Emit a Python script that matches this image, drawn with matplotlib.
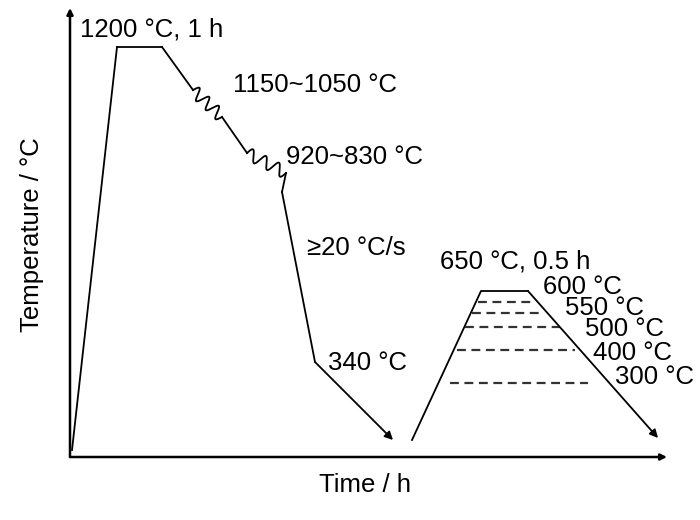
import numpy as np
import matplotlib
matplotlib.use("Agg")
import matplotlib.pyplot as plt

plt.rcParams['font.family'] = ['Liberation Sans', 'DejaVu Sans']

# schematic units (time ~ arbitrary, temperature ~ arbitrary)
hot_t = [2, 47, 92, 123, 152, 177, 216, 212, 245, 323]
hot_T = [7, 410, 410, 367, 340, 304, 284, 265, 95, 17]
# segments drawn as rolling "springs" (index pairs in hot_t / hot_T)
rolling_segments = [(3, 4), (5, 6)]

temper_t = [342, 411, 458, 588]
temper_T = [17, 166, 166, 19]

dash_levels = [155, 144, 130, 107, 74]
dash_start = [408, 402, 395, 387, 380]
dash_end = [463, 470, 490, 505, 518]

labels = ["1200 \u00b0C, 1 h", "1150~1050 \u00b0C", "920~830 \u00b0C", "\u226520 \u00b0C/s",
          "340 \u00b0C", "650 \u00b0C, 0.5 h", "600 \u00b0C", "550 \u00b0C", "500 \u00b0C",
          "400 \u00b0C", "300 \u00b0C"]
label_t = [10, 163, 216, 237, 258, 370, 473, 495, 515, 523, 545]
label_T = [428, 372, 300, 209, 94, 195, 170, 149, 128, 104, 80]


def spring(x0, y0, x1, y1, n=3, amp=6):
    # wiggly line between two points
    s = np.linspace(0, 1, 200)
    dx, dy = x1 - x0, y1 - y0
    L = np.hypot(dx, dy)
    nx, ny = -dy / L, dx / L
    w = amp * np.sin(2 * np.pi * n * s)
    return x0 + dx * s + nx * w, y0 + dy * s + ny * w


fig = plt.figure(figsize=(7, 5.2), dpi=100)
ax = fig.add_axes([70 / 700, 63 / 520, 597 / 700, 449 / 520])
ax.set_xlim(0, 597)
ax.set_ylim(0, 449)
ax.axis('off')

lw = 1.3
fs = 18.5
# hot rolling + quench curve
for i in range(len(hot_t) - 2):
    if (i, i + 1) in rolling_segments:
        xs, ys = spring(hot_t[i], hot_T[i], hot_t[i + 1], hot_T[i + 1])
        ax.plot(xs, ys, color='black', lw=lw)
    else:
        ax.plot(hot_t[i:i + 2], hot_T[i:i + 2], color='black', lw=lw)
ax.annotate("", xy=(hot_t[-1], hot_T[-1]), xytext=(hot_t[-2], hot_T[-2]),
            arrowprops=dict(arrowstyle='-|>', color='black', lw=lw, mutation_scale=12,
                            shrinkA=0, shrinkB=0))

# tempering curve
ax.plot(temper_t[:-1], temper_T[:-1], color='black', lw=lw)
ax.annotate("", xy=(temper_t[-1], temper_T[-1]), xytext=(temper_t[-2], temper_T[-2]),
            arrowprops=dict(arrowstyle='-|>', color='black', lw=lw, mutation_scale=12,
                            shrinkA=0, shrinkB=0))

for lev, a, b in zip(dash_levels, dash_start, dash_end):
    ax.plot([a, b], [lev, lev], color='#333333', lw=1.6, ls=(0, (4, 2.5)))

for txt, x, y in zip(labels, label_t, label_T):
    ax.text(x, y, txt, fontsize=fs, ha='left', va='center')

# axes with arrows
ax.annotate("", xy=(0, 449), xytext=(0, 0),
            arrowprops=dict(arrowstyle='-|>', color='black', lw=1.8, mutation_scale=9,
                            shrinkA=0, shrinkB=0), annotation_clip=False)
ax.annotate("", xy=(597, 0), xytext=(0, 0),
            arrowprops=dict(arrowstyle='-|>', color='black', lw=1.8, mutation_scale=9,
                            shrinkA=0, shrinkB=0), annotation_clip=False)

fig.text(32 / 700, 1 - 235 / 520, "Temperature / \u00b0C", rotation=90, fontsize=fs,
         ha='center', va='center')
fig.text(365 / 700, 1 - 485 / 520, "Time / h", fontsize=fs, ha='center', va='center')

fig.savefig("out.png", dpi=100)
